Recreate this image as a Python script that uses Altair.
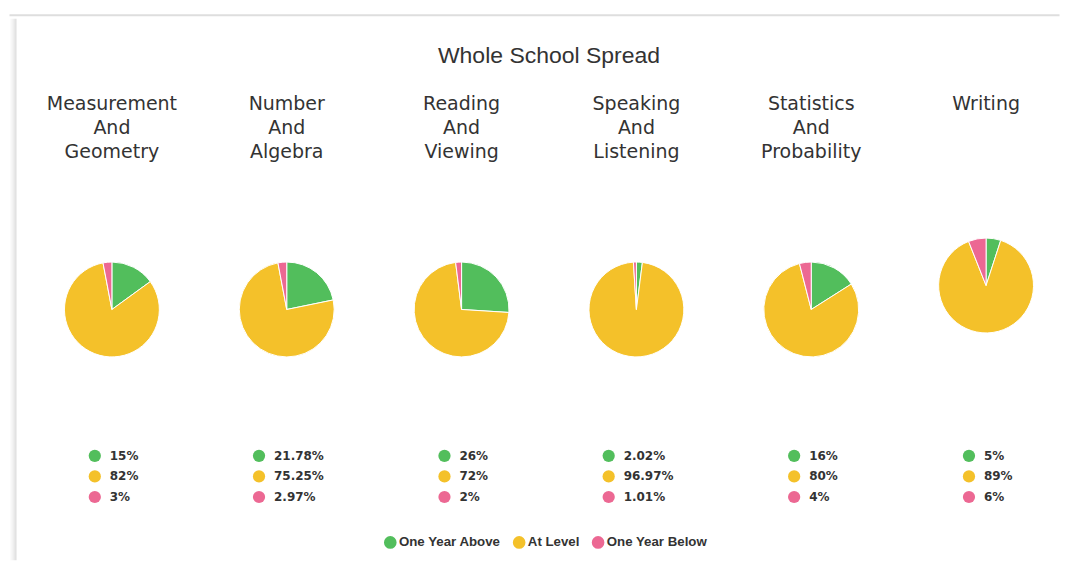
import altair as alt
import pandas as pd

chart_title = "Whole School Spread"
subjects = [
    ["Measurement", "And", "Geometry"],
    ["Number", "And", "Algebra"],
    ["Reading", "And", "Viewing"],
    ["Speaking", "And", "Listening"],
    ["Statistics", "And", "Probability"],
    ["Writing"],
]
categories = ["One Year Above", "At Level", "One Year Below"]
colors = ["#52be5c", "#f4c12a", "#ec6893"]
values = [
    [15, 82, 3],
    [21.78, 75.25, 2.97],
    [26, 72, 2],
    [2.02, 96.97, 1.01],
    [16, 80, 4],
    [5, 89, 6],
]

# layout constants (page coordinates of the first panel's view origin: x=36.5, y=165)
W, H = 150, 345
SPACING = 25
VX, VY = 36.5, 165
PIE_CY = 309 - VY
SUB_TOP = 94.5 - VY
ROW_Y = [455.5 - VY, 496.7 - VY]
MARK_R = 6.5
TEXT_GAP = 15

CHAR_W = {str(d): 0.696 for d in range(10)}
CHAR_W.update({".": 0.380, "%": 1.002})


def text_width(s, size=12):
    return sum(CHAR_W.get(c, 0.7) for c in s) * size


color_scale = alt.Scale(domain=categories, range=colors)
legend = alt.Legend(
    orient="none", direction="horizontal", title=None,
    legendX=347, legendY=370.5,
    symbolType="circle", symbolSize=160, symbolStrokeWidth=0,
    labelFont="Liberation Sans", labelFontSize=13.3, labelFontWeight="bold",
    labelColor="#333333", labelOffset=2, columnPadding=11,
)

panels = []
for i, (subj, vals) in enumerate(zip(subjects, values)):
    labels = [f"{v:g}%" for v in vals]
    df = pd.DataFrame({"cat": categories, "val": vals, "label": labels,
                       "ord": list(range(len(categories)))})
    tw = max(text_width(l) for l in labels)
    block = MARK_R + TEXT_GAP + tw
    mx = W / 2 - block / 2 + MARK_R + 1.5
    cy = PIE_CY - (3 - len(subj)) * 12

    base = alt.Chart(df)
    head = alt.Chart(pd.DataFrame({"t": ["\n".join(subj)]})).mark_text(
        font="DejaVu Sans", fontSize=19, color="#333333", align="center",
        baseline="top", lineBreak="\n", lineHeight=24,
    ).encode(text="t:N", x=alt.value(W / 2), y=alt.value(SUB_TOP))
    pie = base.mark_arc(radius=47.5, stroke="white", strokeWidth=1).encode(
        theta=alt.Theta("val:Q", stack=True),
        order=alt.Order("ord:Q"),
        color=alt.Color("cat:N", scale=color_scale, legend=legend),
        x=alt.value(W / 2), y=alt.value(cy),
    )
    yenc = alt.Y("cat:N", sort=categories, axis=None,
                 scale=alt.Scale(type="point", range=ROW_Y, padding=0))
    dots = base.mark_point(filled=True, shape="circle", size=150, opacity=1).encode(
        x=alt.value(mx), y=yenc,
        color=alt.Color("cat:N", scale=color_scale, legend=legend),
    )
    txt = base.mark_text(align="left", baseline="middle", font="DejaVu Sans",
                         fontSize=12, fontWeight="bold", color="#333333").encode(
        x=alt.value(mx + TEXT_GAP), y=yenc, text="label:N",
    )
    layers = [head, pie, dots, txt]

    if i == 0:
        # card frame (top border line and left shadow) and the overall title
        tdf = pd.DataFrame({"t": [chart_title]})
        frame_top = alt.Chart(tdf).mark_rect(color="#dedede").encode(
            x=alt.value(9 - VX), x2=alt.value(1060 - VX),
            y=alt.value(13.5 - VY), y2=alt.value(15.5 - VY),
        )
        frame_left = alt.Chart(tdf).mark_rect(
            fill=alt.Gradient(
                gradient="linear", x1=0, x2=1, y1=0, y2=0,
                stops=[alt.GradientStop(color="#ffffff", offset=0),
                       alt.GradientStop(color="#f1f1f1", offset=0.5),
                       alt.GradientStop(color="#dcdcdc", offset=1)],
            )
        ).encode(
            x=alt.value(9 - VX), x2=alt.value(16 - VX),
            y=alt.value(18 - VY), y2=alt.value(560 - VY),
        )
        ttl = alt.Chart(tdf).mark_text(
            font="Liberation Sans", fontSize=23, color="#333333",
            align="center", baseline="middle",
        ).encode(
            text="t:N",
            x=alt.value(549 - VX), y=alt.value(55 - VY),
        )
        layers = [frame_top, frame_left, ttl] + layers

    panel = alt.layer(*layers).properties(width=W, height=H)
    panels.append(panel)

chart = alt.hconcat(*panels, spacing=SPACING, bounds="flush").properties(
    padding={"left": 1, "top": 5.5, "right": 0, "bottom": 0},
    background="white",
).configure_view(stroke=None)

chart.save("out.html", embed_options={"renderer": "svg", "actions": False})
